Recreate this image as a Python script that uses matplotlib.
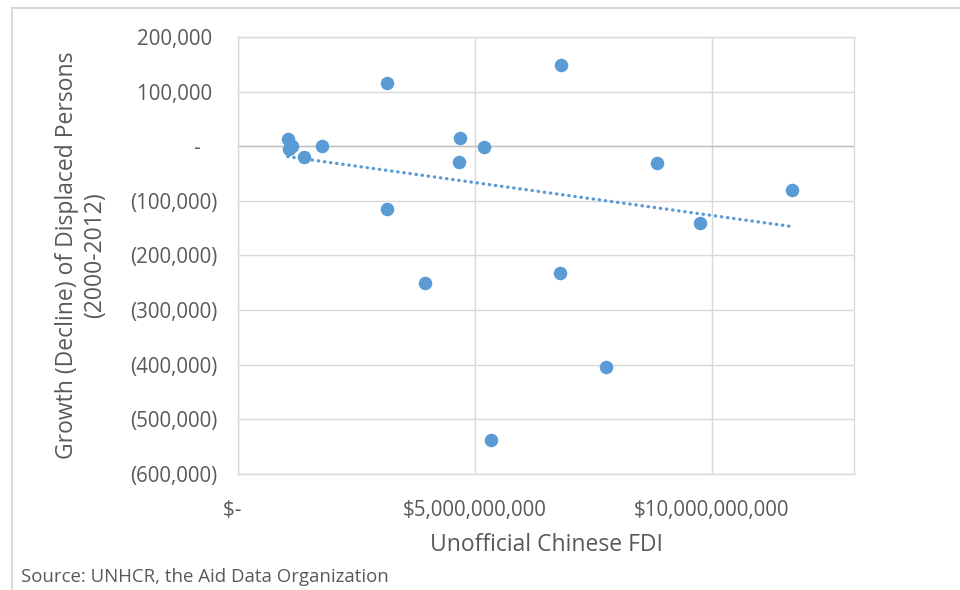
import numpy as np
import matplotlib
matplotlib.use("Agg")
import matplotlib.pyplot as plt
from matplotlib.ticker import FuncFormatter, MultipleLocator
from matplotlib.lines import Line2D

plt.rcParams['font.family'] = ['Open Sans', 'DejaVu Sans']

# === 資料 ===
fdi = [3.14e9, 6.82e9, 1.05e9, 1.13e9, 1.07e9, 1.39e9, 1.77e9, 4.68e9, 4.66e9,
       5.19e9, 8.84e9, 11.69e9, 3.14e9, 9.74e9, 3.95e9, 6.79e9, 7.76e9, 5.33e9]
growth = [115000, 149000, 12500, 1000, -5000, -19000, 1000, 14500, -28000,
          -1000, -30000, -81000, -114000, -140000, -250000, -232000, -405000, -537000]

# 趨勢線 (線性) 兩端
trend_fdi = [1.05e9, 11.69e9]
trend_growth = [-19000, -147000]

x_label = "Unofficial Chinese FDI"
y_label = "Growth (Decline) of Displaced Persons\n(2000-2012)"
source = "Source: UNHCR, the Aid Data Organization"

BLUE = '#5B9BD5'
TEXT = '#595959'
GRID = '#D9D9D9'


def y_fmt(v, pos):
    if abs(v) < 1:
        return "-   "
    if v < 0:
        return f"({abs(v):,.0f})"
    return f"{v:,.0f} "


def x_fmt(v, pos):
    if abs(v) < 1:
        return "$-  "
    return f"${v:,.0f}"


fig = plt.figure(figsize=(9.6, 5.9), dpi=100)
ax = fig.add_axes([0.2479, 0.1966, 0.6417, 0.7407])

ax.scatter(fdi, growth, s=95, color=BLUE, zorder=3, linewidths=0)
ax.plot(trend_fdi, trend_growth, color=BLUE, linestyle=(0, (0.1, 1.75)), linewidth=2.4,
        dash_capstyle='round', zorder=2)

ax.set_xlim(0, 13e9)
ax.set_ylim(-600000, 200000)
ax.xaxis.set_major_locator(MultipleLocator(5e9))
ax.yaxis.set_major_locator(MultipleLocator(100000))
ax.xaxis.set_major_formatter(FuncFormatter(x_fmt))
ax.yaxis.set_major_formatter(FuncFormatter(y_fmt))

ax.grid(True, color=GRID, linewidth=1.0)
ax.set_axisbelow(True)
ax.axhline(0, color='#BFBFBF', linewidth=1.0, zorder=1)
for s in ax.spines.values():
    s.set_color(GRID)
    s.set_linewidth(1.0)

ax.tick_params(length=0, labelsize=14.8, colors=TEXT)
ax.tick_params(axis='y', pad=15)
ax.tick_params(axis='x', pad=19)

ax.set_xlabel(x_label, fontsize=16.5, color=TEXT)
ax.xaxis.set_label_coords(0.5, -0.135)
ax.set_ylabel(y_label, fontsize=16.5, color=TEXT, linespacing=1.25)
ax.yaxis.set_label_coords(-0.212, 0.5)

fig.text(21 / 960, 1 - 577 / 590, source, fontsize=13.4, color=TEXT, va='center', ha='left')

# 外框
fig.add_artist(Line2D([12 / 960, 1], [1 - 8 / 590] * 2, color='#D9D9D9', linewidth=1.5,
                      transform=fig.transFigure))
fig.add_artist(Line2D([12 / 960] * 2, [0, 1 - 8 / 590], color='#D9D9D9', linewidth=1.5,
                      transform=fig.transFigure))

fig.savefig("out.png", dpi=100)
